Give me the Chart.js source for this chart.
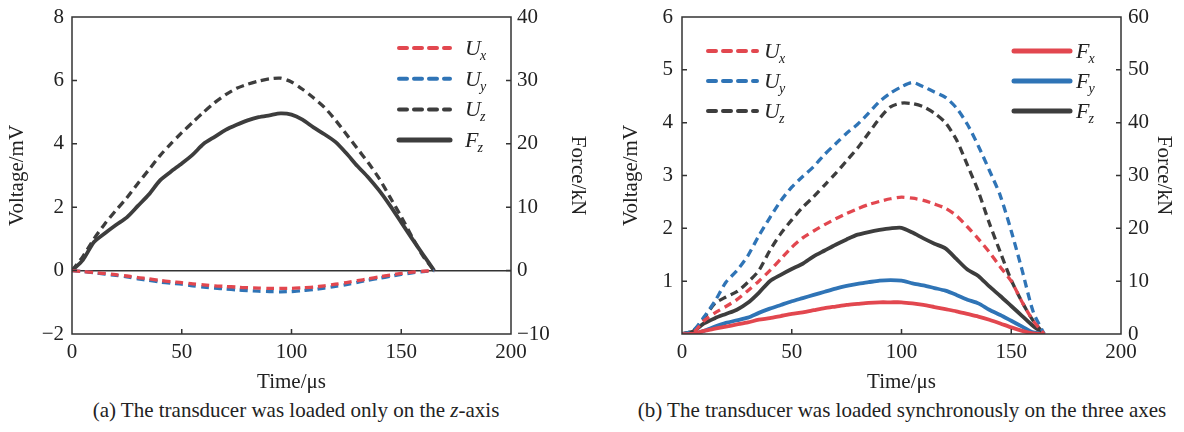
<!DOCTYPE html>
<html>
<head>
<meta charset="utf-8">
<script src="https://cdn.jsdelivr.net/npm/chart.js@4.4.1/dist/chart.umd.min.js"></script>
<style>
  body { margin: 0; background: #fff; width: 1184px; height: 432px; overflow: hidden; font-family: "Liberation Serif", serif; }
  .panel { position: absolute; top: 0; width: 592px; height: 395px; }
  .cap { position: absolute; top: 398px; font-size: 21px; color: #222; text-align: center; white-space: nowrap; }
</style>
</head>
<body>
<div class="panel" style="left:0"><canvas id="chartA"></canvas></div>
<div class="panel" style="left:592px"><canvas id="chartB"></canvas></div>
<div class="cap" style="left:0;width:592px">(a) The transducer was loaded only on the <i>z</i>-axis</div>
<div class="cap" style="left:592px;width:620px">(b) The transducer was loaded synchronously on the three axes</div>
<script>
// time axis (µs), shared by both panels
const time = [0, 5, 10, 15, 20, 25, 30, 35, 40, 45, 50, 55, 60, 65, 70, 75, 80, 85, 90, 95, 100,
  105, 110, 115, 120, 125, 130, 135, 140, 145, 150, 155, 160, 165];

// (a) loaded only on z: voltages in mV, force in kN
const aUx = [0, -0.03, -0.06, -0.09, -0.13, -0.17, -0.22, -0.26, -0.31, -0.35, -0.38, -0.42, -0.45, -0.48, -0.5, -0.52,
  -0.54, -0.55, -0.56, -0.56, -0.56, -0.54, -0.52, -0.48, -0.43, -0.38, -0.32, -0.26, -0.2, -0.14, -0.09, -0.05, -0.02, 0];
const aUy = [0, -0.03, -0.07, -0.11, -0.15, -0.2, -0.26, -0.31, -0.36, -0.4, -0.43, -0.48, -0.52, -0.55, -0.58, -0.61,
  -0.63, -0.65, -0.66, -0.67, -0.66, -0.63, -0.6, -0.55, -0.5, -0.44, -0.37, -0.3, -0.24, -0.18, -0.12, -0.07, -0.03, 0];
const aUz = [0, 0.45, 1.0, 1.48, 1.9, 2.3, 2.75, 3.18, 3.62, 4.0, 4.35, 4.68, 5.0, 5.3, 5.55, 5.75, 5.88, 5.98, 6.05, 6.07,
  5.95, 5.72, 5.45, 5.15, 4.75, 4.3, 3.85, 3.4, 2.9, 2.3, 1.7, 1.05, 0.45, 0];
const aFz = [0, 1.7, 4.5, 5.9, 7.2, 8.4, 10.2, 12.0, 14.2, 15.6, 16.9, 18.3, 20.0, 21.1, 22.2, 23.0, 23.7, 24.2, 24.5, 24.8,
  24.6, 23.8, 22.6, 21.5, 20.3, 18.5, 16.5, 14.7, 12.6, 10.2, 7.6, 5.0, 2.5, 0];

// (b) loaded synchronously on the three axes
const bUx = [0, 0.02, 0.25, 0.4, 0.52, 0.65, 0.82, 1.0, 1.2, 1.42, 1.64, 1.82, 1.95, 2.07, 2.18, 2.28, 2.37, 2.45, 2.51, 2.56,
  2.59, 2.57, 2.53, 2.46, 2.38, 2.24, 2.03, 1.8, 1.55, 1.27, 1.0, 0.6, 0.25, 0];
const bUy = [0, 0.06, 0.32, 0.62, 0.98, 1.2, 1.48, 1.86, 2.2, 2.52, 2.78, 2.98, 3.17, 3.4, 3.6, 3.8, 3.97, 4.18, 4.4, 4.56,
  4.68, 4.76, 4.68, 4.58, 4.48, 4.28, 3.97, 3.56, 3.1, 2.62, 1.95, 1.2, 0.42, 0];
const bUz = [0, 0.05, 0.3, 0.58, 0.7, 0.8, 0.98, 1.2, 1.58, 1.9, 2.16, 2.4, 2.6, 2.82, 3.04, 3.28, 3.52, 3.8, 4.08, 4.3,
  4.37, 4.36, 4.3, 4.18, 4.0, 3.68, 3.2, 2.7, 2.1, 1.55, 1.02, 0.6, 0.25, 0];
const bFx = [0, 0, 0.6, 1.0, 1.4, 1.8, 2.2, 2.7, 3.0, 3.4, 3.8, 4.1, 4.5, 4.9, 5.2, 5.5, 5.7, 5.9, 6.0, 6.0,
  6.0, 5.8, 5.5, 5.1, 4.7, 4.3, 3.8, 3.3, 2.7, 2.0, 1.25, 0.6, 0.1, 0];
const bFy = [0, 0, 0.6, 1.4, 2.1, 2.6, 3.1, 4.0, 4.8, 5.5, 6.2, 6.8, 7.4, 8.0, 8.6, 9.1, 9.5, 9.8, 10.1, 10.2,
  10.1, 9.6, 9.2, 8.7, 8.2, 7.4, 6.5, 5.8, 4.6, 3.6, 2.5, 1.4, 0.3, 0];
const bFz = [0, 0.5, 2.0, 3.0, 3.8, 4.6, 5.9, 7.8, 10.0, 11.2, 12.3, 13.3, 14.7, 15.8, 16.9, 17.9, 18.8, 19.3, 19.7, 20.0,
  20.1, 19.2, 18.1, 17.1, 16.2, 14.2, 12.2, 11.0, 9.0, 7.2, 5.3, 3.4, 1.5, 0];

// axis ranges and tick steps
const aVolt = [-2, 8, 2], aForce = [-10, 40, 10];
const bVolt = [0, 6, 1], bForce = [0, 60, 10];
const timeRange = [0, 200, 50];

const RED = '#e2474f', BLUE = '#2f74b6', DARK = '#3d3d3d', INK = '#222';
const FONT = 'Liberation Serif';

const pts = arr => arr.map((v, i) => ({ x: time[i], y: v }));
const minus = v => (v < 0 ? '\u2212' + Math.abs(v) : '' + v);

function line(label, data, color, dashed, axis) {
  return {
    label, data: pts(data), yAxisID: axis,
    borderColor: color, backgroundColor: color,
    borderWidth: dashed ? 3.3 : 3.8, borderDash: dashed ? [8, 5] : [],
    pointRadius: 0, tension: 0.25, fill: false
  };
}

// inward ticks, frame box and a legend with subscripts
const framePlugin = {
  id: 'frame',
  afterDatasetsDraw(chart, args, opts) {
    const { ctx, chartArea: a, scales } = chart;
    ctx.save();
    ctx.strokeStyle = '#333';
    ctx.lineWidth = 1.5;
    ctx.setLineDash([]);
    ctx.strokeRect(a.left, a.top, a.right - a.left, a.bottom - a.top);
    const len = 5;
    ctx.beginPath();
    scales.x.ticks.forEach(t => {
      const p = scales.x.getPixelForValue(t.value);
      if (p > a.left + 1 && p < a.right - 1) { ctx.moveTo(p, a.bottom); ctx.lineTo(p, a.bottom - len); }
    });
    scales.y.ticks.forEach(t => {
      const p = scales.y.getPixelForValue(t.value);
      if (p > a.top + 1 && p < a.bottom - 1) { ctx.moveTo(a.left, p); ctx.lineTo(a.left + len, p); }
    });
    scales.y2.ticks.forEach(t => {
      const p = scales.y2.getPixelForValue(t.value);
      if (p > a.top + 1 && p < a.bottom - 1) { ctx.moveTo(a.right, p); ctx.lineTo(a.right - len, p); }
    });
    ctx.stroke();

    // legend
    opts.groups.forEach(g => {
      g.items.forEach((idx, k) => {
        const ds = chart.data.datasets[idx];
        const y = a.top + g.y0 + k * g.dy;
        ctx.beginPath();
        ctx.strokeStyle = ds.borderColor;
        ctx.lineWidth = ds.borderDash.length ? 4 : 5;
        ctx.lineCap = 'round';
        ctx.setLineDash(ds.borderDash.length ? [8, 7] : []);
        ctx.moveTo(a.left + g.x0, y);
        ctx.lineTo(a.left + g.x1, y);
        ctx.stroke();
        const [main, sub] = ds.label.split('_');
        ctx.fillStyle = INK;
        ctx.textBaseline = 'alphabetic';
        ctx.font = 'italic 22px "' + FONT + '"';
        const tx = a.left + g.tx;
        ctx.fillText(main, tx, y + 7);
        const w = ctx.measureText(main).width;
        ctx.font = 'italic 14px "' + FONT + '"';
        ctx.fillText(sub, tx + w - 1, y + 12);
      });
    });
    ctx.restore();
  }
};

function scales(volt, force, o) {
  const tickFont = { family: FONT, size: 21 };
  const titleFont = { family: FONT, size: 21 };
  return {
    x: {
      type: 'linear', min: timeRange[0], max: timeRange[1],
      ticks: { stepSize: timeRange[2], padding: 6, font: tickFont, color: INK, maxRotation: 0 },
      grid: { display: false, drawTicks: false }, border: { display: false },
      title: { display: true, text: 'Time/\u03bcs', font: titleFont, color: INK, padding: { top: 1, bottom: 0 } },
      afterFit: s => { s.height = o.xh; s.paddingLeft = 0; s.paddingRight = 0; }
    },
    y: {
      position: 'left', min: volt[0], max: volt[1],
      ticks: { stepSize: volt[2], padding: o.lp, font: tickFont, color: INK,
        callback: v => (o.hideZero && v === 0 ? '' : minus(v)) },
      grid: {
        display: o.zeroLine, drawTicks: false, lineWidth: 1.6,
        color: c => (c.tick && c.tick.value === 0 ? '#333' : 'rgba(0,0,0,0)')
      },
      border: { display: false },
      title: { display: true, text: 'Voltage/mV', font: titleFont, color: INK, padding: { top: o.lt, bottom: 0 } },
      afterFit: s => { s.width = o.lw; s.paddingTop = 0; s.paddingBottom = 0; }
    },
    y2: {
      position: 'right', min: force[0], max: force[1],
      ticks: { stepSize: force[2], padding: o.rp, font: tickFont, color: INK, callback: v => minus(v) },
      grid: { display: false, drawTicks: false }, border: { display: false },
      title: { display: true, text: 'Force/kN', font: titleFont, color: INK, padding: { top: o.rt, bottom: 0 } },
      afterFit: s => { s.width = o.rw; s.paddingTop = 0; s.paddingBottom = 0; }
    }
  };
}

function build(id, datasets, sc, legend) {
  return new Chart(document.getElementById(id), {
    type: 'line',
    data: { datasets },
    options: {
      responsive: true, maintainAspectRatio: false, animation: false,
      layout: { padding: { top: 17, left: 0, right: 0, bottom: 0 } },
      plugins: { legend: { display: false }, tooltip: { enabled: false }, frame: legend },
      scales: sc
    },
    plugins: [framePlugin]
  });
}

build('chartA', [
  line('U_x', aUx, RED, true, 'y'),
  line('U_y', aUy, BLUE, true, 'y'),
  line('U_z', aUz, DARK, true, 'y'),
  line('F_z', aFz, DARK, false, 'y2')
], scales(aVolt, aForce, { xh: 61, lw: 72, rw: 81, lp: 8, rp: 6, lt: 5, rt: 2, zeroLine: true, hideZero: false }),
{ groups: [{ x0: 327, x1: 378, tx: 393, y0: 31, dy: 30.7, items: [0, 1, 2, 3] }] });

build('chartB', [
  line('U_x', bUx, RED, true, 'y'),
  line('U_y', bUy, BLUE, true, 'y'),
  line('U_z', bUz, DARK, true, 'y'),
  line('F_x', bFx, RED, false, 'y2'),
  line('F_y', bFy, BLUE, false, 'y2'),
  line('F_z', bFz, DARK, false, 'y2')
], scales(bVolt, bForce, { xh: 61, lw: 90, rw: 63, lp: 9, rp: 7, lt: 27, rt: 8, zeroLine: false, hideZero: true }),
{ groups: [
  { x0: 26, x1: 75, tx: 82, y0: 34, dy: 30, items: [0, 1, 2] },
  { x0: 332, x1: 388, tx: 394, y0: 34, dy: 30, items: [3, 4, 5] }
] });
</script>
</body>
</html>
